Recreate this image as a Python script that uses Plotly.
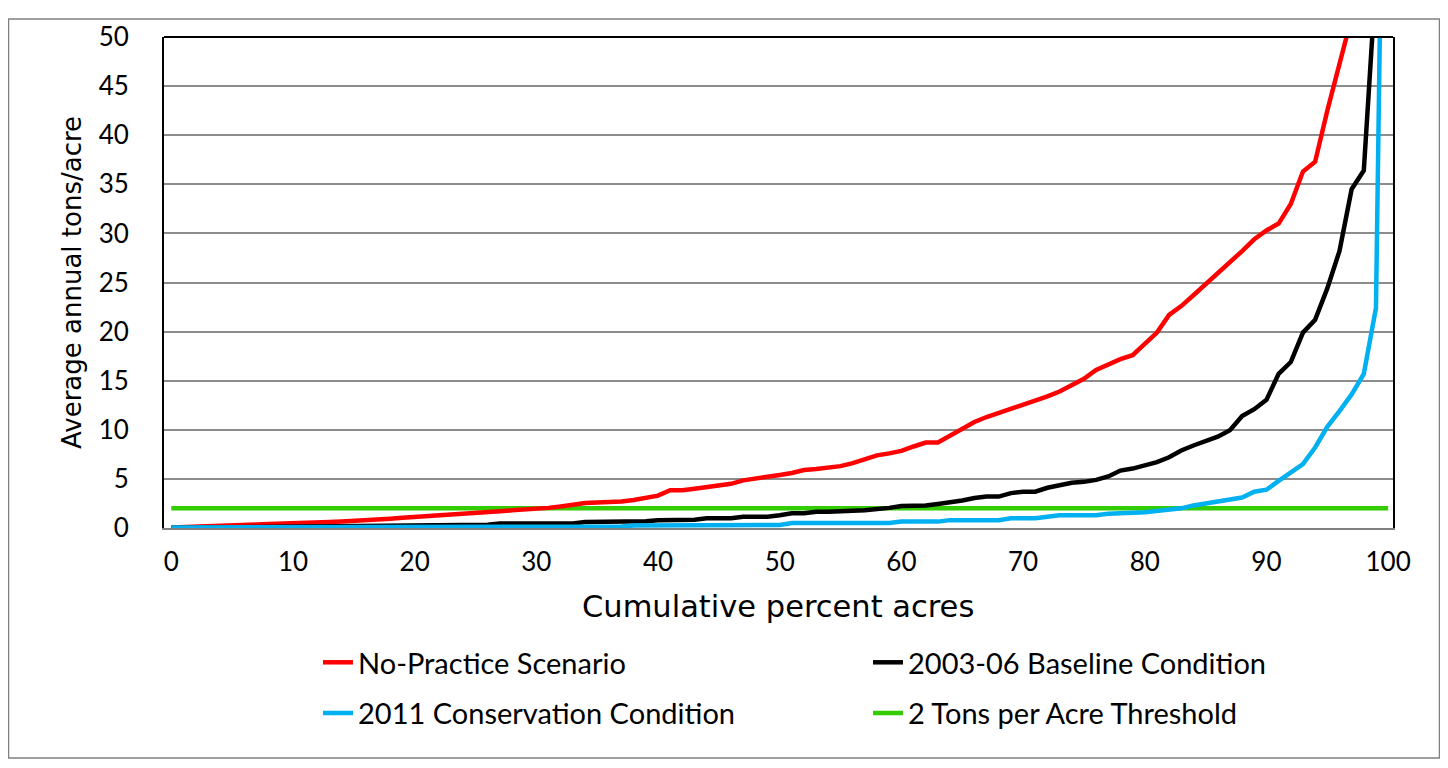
import plotly.graph_objects as go

pct = list(range(0, 101))

no_practice = [0.05, 0.08, 0.1, 0.15, 0.2, 0.25, 0.3, 0.35, 0.4, 0.42,
               0.45, 0.5, 0.55, 0.6, 0.65, 0.7, 0.8, 0.9, 0.95, 1.05,
               1.12, 1.2, 1.3, 1.35, 1.45, 1.5, 1.6, 1.7, 1.8, 1.85,
               1.95, 2.05, 2.2, 2.4, 2.55, 2.6, 2.6, 2.7, 2.85, 3.1,
               3.3, 3.85, 3.85, 4.0, 4.2, 4.35, 4.5, 4.85, 5.0, 5.2,
               5.4, 5.6, 5.9, 6.0, 6.15, 6.3, 6.6, 7.0, 7.4, 7.6,
               7.85, 8.3, 8.7, 8.7, 9.4, 10.0, 10.8, 11.3, 11.7, 12.2,
               12.6, 13.0, 13.4, 13.9, 14.6, 15.2, 16.1, 16.7, 17.2, 17.6,
               18.8, 19.9, 21.7, 22.6, 23.7, 24.8, 26.0, 27.0, 28.2, 29.4,
               30.3, 31.0, 33.0, 36.3, 37.3, 42.5, 47.0, 52.0, None, None,
               None]

baseline = [0.02, 0.03, 0.04, 0.05, 0.05, 0.06, 0.07, 0.08, 0.09, 0.1,
            0.1, 0.11, 0.12, 0.13, 0.14, 0.15, 0.16, 0.17, 0.18, 0.19,
            0.2, 0.25, 0.27, 0.28, 0.3, 0.3, 0.32, 0.45, 0.45, 0.45,
            0.45, 0.45, 0.45, 0.45, 0.6, 0.6, 0.62, 0.65, 0.68, 0.7,
            0.8, 0.8, 0.8, 0.85, 1.0, 1.0, 1.0, 1.15, 1.15, 1.15,
            1.3, 1.5, 1.5, 1.65, 1.65, 1.65, 1.75, 1.8, 1.9, 2.05,
            2.25, 2.25, 2.3, 2.45, 2.6, 2.8, 3.05, 3.2, 3.2, 3.55,
            3.7, 3.7, 4.1, 4.4, 4.6, 4.7, 4.9, 5.25, 5.85, 6.05,
            6.4, 6.7, 7.2, 7.9, 8.4, 8.8, 9.3, 9.95, 11.4, 12.1,
            13.05, 15.7, 16.9, 19.9, 21.2, 24.4, 28.2, 34.5, 36.4, 56.0,
            None]

conservation = [0.05, 0.05, 0.05, 0.05, 0.05, 0.05, 0.05, 0.05, 0.05, 0.05,
                0.05, 0.08, 0.08, 0.08, 0.08, 0.08, 0.08, 0.08, 0.08, 0.08,
                0.08, 0.08, 0.08, 0.08, 0.08, 0.08, 0.12, 0.12, 0.12, 0.12,
                0.12, 0.12, 0.12, 0.12, 0.12, 0.12, 0.12, 0.15, 0.25, 0.25,
                0.25, 0.25, 0.25, 0.25, 0.25, 0.25, 0.25, 0.25, 0.28, 0.3,
                0.3, 0.5, 0.5, 0.5, 0.5, 0.5, 0.5, 0.5, 0.5, 0.5,
                0.65, 0.65, 0.65, 0.65, 0.8, 0.8, 0.8, 0.8, 0.8, 1.0,
                1.0, 1.0, 1.15, 1.3, 1.3, 1.3, 1.3, 1.45, 1.45, 1.55,
                1.6, 1.75, 1.9, 2.0, 2.3, 2.5, 2.6, 2.8, 3.1, 3.7,
                3.9, 4.8, 5.6, 6.5, 8.2, 10.3, 11.9, 13.6, 15.7, 22.4,
                110.0]

threshold = [2.0] * 101

series_names = ["No-Practice Scenario", "2003-06 Baseline Condition",
                "2011 Conservation Condition", "2 Tons per Acre Threshold"]
series_colors = ["#FF0000", "#000000", "#00B0F0", "#33CC00"]
series_values = [no_practice, baseline, conservation, threshold]
series_legend = ["legend", "legend", "legend2", "legend2"]

x_ticks = list(range(0, 101, 10))
y_ticks = list(range(0, 51, 5))

FONT = "Lato"
WIDE = "DejaVu Sans"

fig = go.Figure()
draw_order = [3, 0, 1, 2]
for i in draw_order:
    fig.add_trace(go.Scatter(
        x=pct, y=series_values[i], mode="lines", name=series_names[i],
        line=dict(color=series_colors[i], width=4.5),
        legend=series_legend[i], connectgaps=False,
        legendrank=i + 1,
    ))

# page is rendered with an 8px body margin
OFF = 8
W, H = 1432, 752
L, R, T, B = 164 - OFF, W - (1393 - OFF), 35 - OFF, H - (528 - OFF)
pw, ph = W - L - R, H - T - B


def px_x(p):
    return (p - OFF - L) / pw


def px_y(p):
    return (H - B - (p - OFF)) / ph


legend_common = dict(orientation="h", x=px_x(318), xanchor="left",
                     yanchor="middle", entrywidth=505,
                     entrywidthmode="pixels",
                     font=dict(size=29, family=FONT),
                     bgcolor="rgba(0,0,0,0)", traceorder="normal")

fig.update_layout(
    width=W, height=H,
    margin=dict(l=L, r=R, t=T, b=B),
    paper_bgcolor="white", plot_bgcolor="white",
    font=dict(family=FONT, color="black"),
    showlegend=True,
    legend=dict(y=px_y(663), **legend_common),
    legend2=dict(y=px_y(714), **legend_common),
)

fig.update_xaxes(
    range=[-0.6, 100.4], tickmode="array", tickvals=x_ticks,
    ticktext=[str(v) for v in x_ticks],
    tickfont=dict(size=26, family=FONT), showgrid=False, zeroline=False,
    showline=True, linecolor="#808080", linewidth=2, mirror=False,
    ticks="", ticklabelstandoff=10,
)
fig.update_yaxes(
    range=[0, 50], tickmode="array", tickvals=y_ticks,
    ticktext=[str(v) for v in y_ticks],
    tickfont=dict(size=26, family=FONT), showgrid=True,
    gridcolor="#8C8C8C", gridwidth=2, zeroline=False,
    showline=True, linecolor="black", linewidth=2, mirror=True,
    ticks="", ticklabelstandoff=28,
)

fig.add_shape(type="line", xref="paper", yref="paper", x0=0, x1=1, y0=1, y1=1,
              line=dict(color="black", width=2))
fig.add_shape(type="rect", xref="paper", yref="paper",
              x0=px_x(8.5), x1=px_x(1439.5), y0=px_y(17), y1=px_y(759),
              line=dict(color="#808080", width=1.5), layer="below")

fig.add_annotation(text="Average annual tons/acre", xref="paper", yref="paper",
                   x=px_x(72), y=px_y(282), textangle=-90, showarrow=False,
                   xanchor="center", yanchor="middle",
                   font=dict(size=26, family=WIDE, color="black"))
fig.add_annotation(text="Cumulative percent acres", xref="paper", yref="paper",
                   x=px_x(778), y=px_y(607), showarrow=False,
                   xanchor="center", yanchor="middle",
                   font=dict(size=30.5, family=WIDE, color="black"))

fig.write_html("out.html")
